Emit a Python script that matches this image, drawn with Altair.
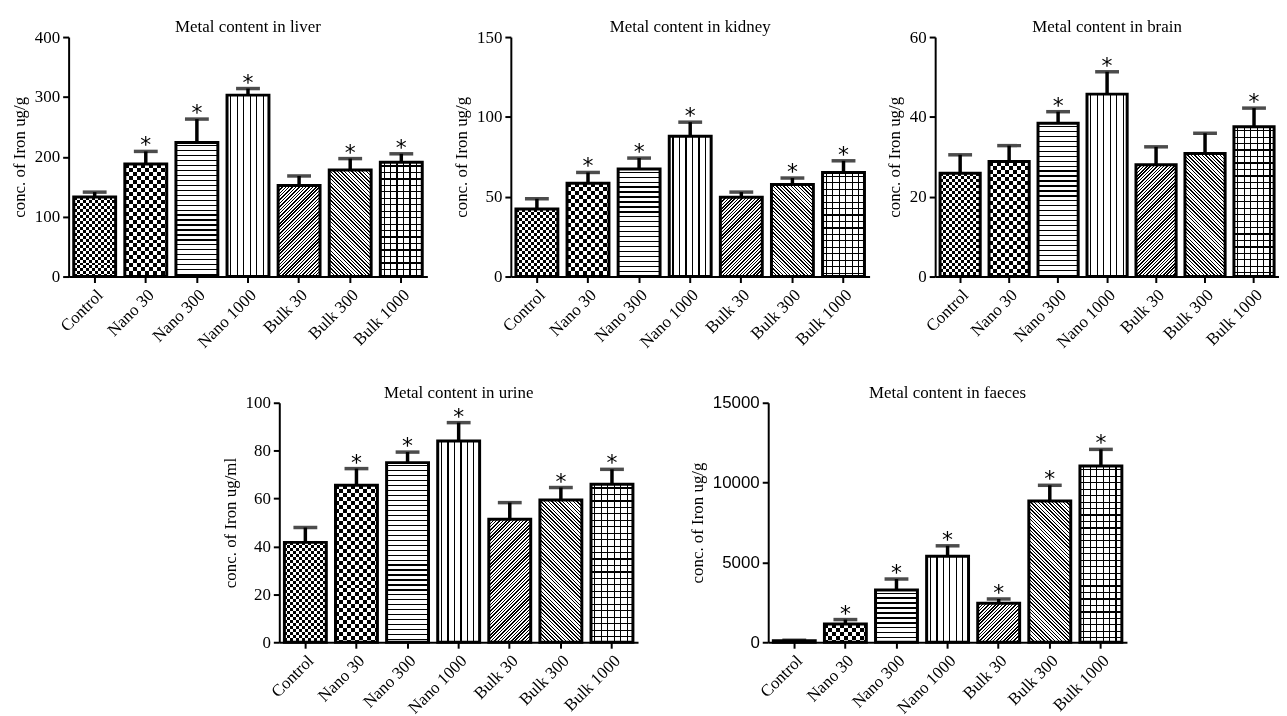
import altair as alt
import pandas as pd

categories = ["Control", "Nano 30", "Nano 300", "Nano 1000", "Bulk 30", "Bulk 300", "Bulk 1000"]

liver_mean = [133, 188, 224, 303, 152, 178, 191]
liver_sem = [8, 21, 39, 11, 16, 19, 14]
liver_sig = [False, True, True, True, False, True, True]

kidney_mean = [42.3, 58.5, 67.3, 87.9, 49.6, 57.7, 65.2]
kidney_sem = [6.4, 6.7, 6.9, 8.8, 3.3, 4.0, 7.3]
kidney_sig = [False, True, True, True, False, True, True]

brain_mean = [25.9, 28.8, 38.4, 45.7, 28.0, 30.8, 37.5]
brain_sem = [4.6, 4.0, 2.9, 5.6, 4.5, 5.1, 4.7]
brain_sig = [False, False, True, True, False, False, True]

urine_mean = [41.7, 65.6, 75.0, 84.0, 51.4, 59.4, 66.0]
urine_sem = [6.2, 6.9, 4.4, 7.7, 6.9, 5.2, 6.2]
urine_sig = [False, True, True, True, False, True, True]

faeces_mean = [90, 1150, 3270, 5380, 2440, 8850, 11040]
faeces_sem = [40, 270, 690, 660, 270, 980, 1040]
faeces_sig = [False, True, True, True, True, True, True]

H = 241
P_IN, P_OUT = 0.18, 0.1
SERIF = "Liberation Serif"
SANS = "Liberation Sans"


def stripes(L, period, dark, base="white", ink="black"):
    L = max(L, 0.5)
    stops = [{"offset": 0, "color": base}]
    pos = period * 0.5
    while pos < L:
        s = pos / L
        e = min((pos + dark) / L, 1.0)
        stops += [{"offset": s, "color": base}, {"offset": s, "color": ink},
                  {"offset": e, "color": ink}, {"offset": e, "color": base}]
        pos += period
    stops.append({"offset": 1, "color": base})
    return stops


def horiz(h, period, dark, base="white", ink="black"):
    return {"gradient": "linear", "x1": 0, "y1": 0, "x2": 0, "y2": 1,
            "stops": stripes(h, period, dark, base, ink)}


def vert(w, period, dark, base="white", ink="black"):
    return {"gradient": "linear", "x1": 0, "y1": 0, "x2": 1, "y2": 0,
            "stops": stripes(w, period, dark, base, ink)}


def diag(w, h, period, dark, forward=True):
    h = max(h, 0.5)
    a = (w + h) / (w * w + h * h)
    if forward:
        g = {"x1": 0, "y1": 0, "x2": a * w, "y2": a * h}
    else:
        g = {"x1": 0, "y1": 1, "x2": a * w, "y2": 1 - a * h}
    g.update({"gradient": "linear", "stops": stripes(w + h, period, dark)})
    return g


def pattern_fills(cat, w, h):
    if cat == "Control":
        return [(horiz(h, 6, 3), None), (vert(w, 6, 3), "difference")]
    if cat == "Nano 30":
        return [(horiz(h, 8, 4), None), (vert(w, 8, 4), "difference")]
    if cat == "Nano 300":
        return [(horiz(h, 5, 1.2), None)]
    if cat == "Nano 1000":
        return [(vert(w, 6.5, 1.2), None)]
    if cat == "Bulk 30":
        return [(diag(w, h, 3.4, 1.5, True), None)]
    if cat == "Bulk 300":
        return [(diag(w, h, 3.6, 1.4, False), None)]
    return [(horiz(h, 6.5, 1.2), None),
            (vert(w, 6.5, 1.2, base="rgba(255,255,255,0)"), None)]


def panel(title, mean, sem, sig, ymax, step, width=361, ylabel="conc. of Iron ug/g",
          tick_font=SERIF):
    bw = width / (len(categories) - P_IN + 2 * P_OUT) * (1 - P_IN)
    df = pd.DataFrame({
        "cat": categories,
        "mean": mean,
        "upper": [m + s for m, s in zip(mean, sem)],
        "star": ["*" if s else "" for s in sig],
    })
    base = alt.Chart(df)
    xenc = alt.X("cat:N", sort=categories,
                 scale=alt.Scale(domain=categories, paddingInner=P_IN, paddingOuter=P_OUT),
                 axis=alt.Axis(title=None, labelAngle=-45, labelAlign="right",
                               labelBaseline="top", labelFontSize=17, labelPadding=4,
                               labelFont=SERIF, grid=False))
    yscale = alt.Scale(domain=[0, ymax], nice=False)
    yaxis = alt.Axis(title=ylabel, values=list(range(0, ymax + 1, step)), format="d",
                     labelFont=tick_font, labelFontSize=17, grid=False,
                     titleFont=SERIF, titleFontSize=17, titleFontWeight="normal")
    ym = alt.Y("mean:Q", scale=yscale, axis=yaxis, title=ylabel)
    yu = alt.Y("upper:Q", scale=yscale, axis=yaxis, title=ylabel)

    layers = []
    for i, c in enumerate(categories):
        h = mean[i] / ymax * H
        for fill, blend in pattern_fills(c, bw, h):
            mk = {"fill": fill}
            if blend:
                mk["blend"] = blend
            layers.append(base.transform_filter(alt.datum.cat == c)
                          .mark_bar(**mk).encode(x=xenc, y=ym))
    outline = base.mark_bar(fillOpacity=0, stroke="black", strokeWidth=3).encode(x=xenc, y=ym)
    stem = base.mark_rule(color="black", strokeWidth=3.5).encode(x=xenc, y=ym, y2="upper:Q")
    cap = base.mark_tick(color="black", thickness=3.5, size=24).encode(x=xenc, y=yu)
    star = (base.transform_filter(alt.datum.star != "")
            .mark_text(font="DejaVu Sans", fontSize=22, baseline="middle", dy=-6, color="black")
            .encode(x=xenc, y=yu, text="star:N"))
    return alt.layer(*layers, stem, cap, outline, star).properties(
        width=width, height=H,
        title=alt.TitleParams(title, font=SERIF, fontSize=17, fontWeight="normal",
                              color="black", anchor="middle", offset=-8, frame="group"))


liver = panel("Metal content in liver", liver_mean, liver_sem, liver_sig, 400, 100)
kidney = panel("Metal content in kidney", kidney_mean, kidney_sem, kidney_sig, 150, 50)
brain = panel("Metal content in brain", brain_mean, brain_sem, brain_sig, 60, 20, width=346)
urine = panel("Metal content in urine", urine_mean, urine_sem, urine_sig, 100, 20,
              ylabel="conc. of Iron ug/ml")
faeces = panel("Metal content in faeces", faeces_mean, faeces_sem, faeces_sig, 15000, 5000,
               tick_font=SANS)

spacer = alt.Chart(pd.DataFrame({"a": [0]})).mark_point(opacity=0).properties(width=147, height=10)

top = alt.hconcat(alt.hconcat(liver, kidney, spacing=25), brain, spacing=16)
bottom = alt.hconcat(spacer, alt.hconcat(urine, faeces, spacing=50), spacing=6)

chart = alt.vconcat(top, bottom, spacing=33).properties(
    padding={"left": 2, "top": 8, "right": 0, "bottom": 0}
).configure(
    background="white"
).configure_axis(
    domainColor="black", domainWidth=2, tickColor="black", tickWidth=2, tickSize=6,
    labelColor="black", titleColor="black", grid=False, labelFont=SERIF,
    titleFont=SERIF, titleFontWeight="normal", titleFontSize=17, titlePadding=6,
    labelPadding=3
).configure_view(strokeWidth=0)

chart.save("out.html", embed_options={"renderer": "svg", "actions": False})
